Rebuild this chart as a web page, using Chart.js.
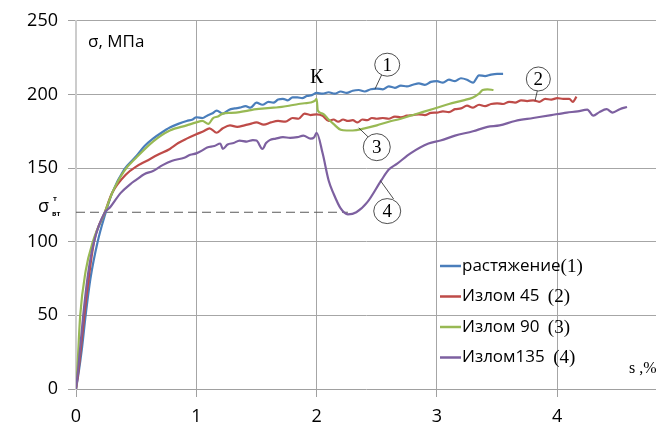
<!DOCTYPE html>
<html>
<head>
<meta charset="utf-8">
<script src="https://cdn.jsdelivr.net/npm/chart.js@4"></script>
<style>
  body { margin: 0; background: #fff; }
  #wrap { width: 656px; height: 433px; }
</style>
</head>
<body>
<div id="wrap"><canvas id="chart"></canvas></div>
<script>
// strain s, % and stress σ, MPa
const strain1 = [0,0.02,0.05,0.08,0.12,0.18,0.24,0.3,0.4,0.5,0.57,0.64,0.71,0.78,0.85,0.92,0.97,1.0,1.05,1.09,1.13,1.17,1.22,1.27,1.32,1.36,1.41,1.45,1.5,1.55,1.6,1.64,1.68,1.72,1.76,1.8,1.84,1.88,1.92,1.96,2.0,2.05,2.1,2.15,2.2,2.25,2.3,2.35,2.4,2.45,2.5,2.55,2.6,2.65,2.7,2.75,2.8,2.85,2.9,2.95,3.0,3.05,3.1,3.15,3.2,3.25,3.3,3.35,3.4,3.45,3.5,3.55];
const stress1 = [0,10,28,50,75,100,118,133,149,158,165,170,174,177.5,180,182,183,184.5,184,185.6,187,189,187,189.5,190.5,191,192,191,194.4,193,195,194.4,196.5,197,196,198,198,197.5,199,199.5,201,200.5,201.5,200.5,202,201,202.5,203,202,203.5,204,203.5,205.5,204.5,206,205.5,206.6,207.5,206.5,208.5,209,208,210,209,211,210,208,213,212.5,213.5,214,214];

const strain2 = [0,0.02,0.05,0.08,0.15,0.24,0.3,0.42,0.5,0.59,0.68,0.78,0.85,0.92,1.0,1.06,1.11,1.17,1.22,1.28,1.34,1.4,1.45,1.5,1.56,1.62,1.68,1.74,1.8,1.85,1.9,1.95,2.0,2.05,2.1,2.14,2.18,2.22,2.26,2.3,2.34,2.38,2.42,2.46,2.5,2.55,2.6,2.65,2.7,2.75,2.8,2.85,2.9,2.95,3.0,3.05,3.1,3.15,3.2,3.25,3.3,3.35,3.4,3.45,3.5,3.55,3.6,3.65,3.7,3.75,3.8,3.85,3.9,3.95,4.0,4.05,4.1,4.13,4.16];
const stress2 = [0,12,35,58,100,120,133,146,151,155,159,163,167,170,173,175,177,174,177,179,178,179,180,181,179.5,181,182,181.5,184,183.5,187,186,186.5,185.5,182,183,181.5,183,182,182.5,181,183,182.5,184,183.5,184,183.5,185,184.5,185.6,186,186.5,186,187.5,187.7,188.5,188,190,190.5,192.4,191,193,192,193.5,194,193.5,195,194.5,196,195.5,196,195,197,196.5,197.5,197,197,195,198.5];

const strain3 = [0,0.01,0.035,0.08,0.14,0.24,0.3,0.4,0.5,0.64,0.78,0.92,1.0,1.05,1.1,1.14,1.18,1.22,1.29,1.36,1.43,1.5,1.57,1.64,1.71,1.78,1.85,1.9,1.95,1.99,2.0,2.01,2.05,2.1,2.14,2.2,2.25,2.3,2.4,2.5,2.6,2.7,2.78,2.9,3.0,3.1,3.22,3.3,3.35,3.38,3.42,3.47];
const stress3 = [0,12,50,80,100,120,133,148,157,168,175.5,179,181,182,180,184,185,187,187.5,188,189,190,190.5,191,191.5,192.5,193.5,194,194.5,196,197,189,187,183,180,176,175.5,175.5,177,179,181.5,183.5,185.6,188.5,191,193.5,196,198,200.5,203,203.5,203];

const strain4 = [0,0.02,0.06,0.1,0.15,0.24,0.28,0.37,0.45,0.5,0.57,0.64,0.72,0.8,0.9,0.95,1.0,1.05,1.09,1.15,1.2,1.22,1.26,1.31,1.36,1.42,1.47,1.5,1.55,1.58,1.61,1.66,1.72,1.78,1.84,1.89,1.95,1.98,2.0,2.05,2.1,2.14,2.2,2.26,2.33,2.42,2.54,2.6,2.67,2.78,2.93,3.03,3.15,3.3,3.42,3.52,3.65,3.8,3.95,4.08,4.17,4.25,4.3,4.35,4.41,4.46,4.52,4.58];
const stress4 = [0,15,50,78,100,120,123,133,139,142,146,148,152,155,157,159,160,162,164,165,166.7,163,166,167,168.7,168,169,168.7,163,167,169,170,171,170.5,171,172,170,171,174,160,141.6,132.8,122.6,118.6,120,126.7,142,149,153,160,166.7,168.7,172,175,178,179,182,184,186,187.7,188.5,189.7,185.6,188,190,187.7,190,191.5];

// σ_вт dashed level
const yieldStrain = [0, 2.26];
const yieldStress = [120, 120];

const seriesNames = ["растяжение", "Излом 45 ", "Излом 90 ", "Излом135 "];
const seriesTags = ["(1)", "(2)", "(3)", "(4)"];
const seriesColors = ["#4a7ebb", "#be4b48", "#98b954", "#7d60a0"];

const xTicks = [0, 1, 2, 3, 4];
const yTicks = [0, 50, 100, 150, 200, 250];

function toPoints(xs, ys) {
  return xs.map((x, i) => ({ x: x, y: ys[i] }));
}

const serif = '"Liberation Serif", "DejaVu Serif", serif';
const sans = '"Open Sans", "Noto Sans", sans-serif';

const annotationPlugin = {
  id: "annotations",
  afterDatasetsDraw(chart) {
    const { ctx, scales: { x, y } } = chart;
    const px = v => x.getPixelForValue(v);
    const py = v => y.getPixelForValue(v);
    ctx.save();

    // axis caption
    ctx.fillStyle = "#000";
    ctx.font = "17px " + sans;
    ctx.textAlign = "left";
    ctx.textBaseline = "middle";
    ctx.fillText("σ, МПа", px(0.1), py(235.8));

    // K point
    ctx.font = "20px " + serif;
    ctx.textAlign = "center";
    ctx.fillText("К", px(2.0), py(211.6));

    // numbered circles with leaders
    const circles = [
      { n: "1", cx: 2.587, cy: 220.2, rx: 12.5, ry: 11.5, from: [2.544, 213.9], to: [2.486, 203.8] },
      { n: "2", cx: 3.843, cy: 210.5, rx: 12, ry: 12, from: [3.835, 202.6], to: [3.816, 195.9] },
      { n: "3", cx: 2.5, cy: 164.2, rx: 13.5, ry: 13.5, from: [2.43, 171], to: [2.35, 177.3] },
      { n: "4", cx: 2.587, cy: 120.8, rx: 13.5, ry: 12.5, from: [2.64, 129], to: [2.53, 141.5] }
    ];
    ctx.strokeStyle = "#222";
    ctx.lineWidth = 0.8;
    circles.forEach(c => {
      ctx.beginPath();
      ctx.moveTo(px(c.from[0]), py(c.from[1]));
      ctx.lineTo(px(c.to[0]), py(c.to[1]));
      ctx.stroke();
      ctx.beginPath();
      ctx.ellipse(px(c.cx), py(c.cy), c.rx, c.ry, 0, 0, Math.PI * 2);
      ctx.fillStyle = "#fff";
      ctx.fill();
      ctx.stroke();
      ctx.fillStyle = "#000";
      ctx.font = "19px " + serif;
      ctx.fillText(c.n, px(c.cx), py(c.cy) + 1);
    });

    // σ_вт^т label left of the axis
    const ly = py(120);
    ctx.textAlign = "left";
    ctx.font = "18px " + sans;
    ctx.fillText("σ", 38, ly - 5);
    ctx.font = "bold 7px " + sans;
    ctx.fillText("т", 53, ly - 13);
    ctx.fillText("вт", 52, ly + 2);

    // s,% axis caption
    ctx.font = "16px " + serif;
    ctx.fillText("s ,%", 629, 369);

    // legend
    const lx = 440, ly0 = 266, gap = 30.5;
    seriesNames.forEach((name, i) => {
      const yy = ly0 + i * gap;
      ctx.strokeStyle = seriesColors[i];
      ctx.lineWidth = 2.5;
      ctx.beginPath();
      ctx.moveTo(lx, yy);
      ctx.lineTo(lx + 21, yy);
      ctx.stroke();
      ctx.fillStyle = "#000";
      ctx.font = "17px " + sans;
      ctx.textBaseline = "middle";
      ctx.fillText(name, lx + 22, yy);
      const w = ctx.measureText(name).width;
      ctx.font = "19px " + serif;
      ctx.fillText(seriesTags[i], lx + 22 + w + (i === 0 ? 0 : 4), yy + 1);
    });
    ctx.restore();
  }
};

const datasets = [
  [strain1, stress1], [strain2, stress2], [strain3, stress3], [strain4, stress4]
].map((s, i) => ({
  label: seriesNames[i],
  data: toPoints(s[0], s[1]),
  borderColor: seriesColors[i],
  borderWidth: 2.2,
  showLine: true,
  pointRadius: 0,
  cubicInterpolationMode: "monotone",
  order: 4 - i
}));

datasets.push({
  label: "σвт",
  data: toPoints(yieldStrain, yieldStress),
  borderColor: "#595959",
  borderWidth: 1,
  borderDash: [9, 5],
  showLine: true,
  pointRadius: 0,
  order: 10
});

const ctx = document.getElementById("chart").getContext("2d");
new Chart(ctx, {
  type: "scatter",
  data: { datasets: datasets },
  options: {
    responsive: true,
    maintainAspectRatio: false,
    animation: false,
    layout: { padding: { top: 20, left: 0, right: 0, bottom: 0 } },
    plugins: {
      legend: { display: false },
      tooltip: { enabled: false }
    },
    scales: {
      x: {
        type: "linear",
        min: 0,
        max: 4.821,
        afterBuildTicks: scale => {
          scale.ticks = xTicks.map(v => ({ value: v }));
        },
        afterFit: scale => { scale.height = 44; },
        grid: {
          color: c => (c.tick && c.tick.value === 0 ? "rgba(0,0,0,0)" : "#a6a6a6"),
          tickColor: "#a0a0a0",
          tickLength: 8
        },
        border: { color: "#a0a0a0", width: 1 },
        ticks: {
          color: "#000",
          padding: 9,
          font: { family: sans, size: 18 }
        }
      },
      y: {
        min: 0,
        max: 250,
        afterBuildTicks: scale => {
          scale.ticks = yTicks.map(v => ({ value: v }));
        },
        afterFit: scale => { scale.width = 76; },
        grid: {
          color: c => (c.tick && c.tick.value === 0 ? "rgba(0,0,0,0)" : "#a6a6a6"),
          tickColor: "#a0a0a0",
          tickLength: 8
        },
        border: { color: "#cccccc", width: 2 },
        ticks: {
          color: "#000",
          padding: 10,
          font: { family: sans, size: 18 }
        }
      }
    }
  },
  plugins: [annotationPlugin]
});
</script>
</body>
</html>
